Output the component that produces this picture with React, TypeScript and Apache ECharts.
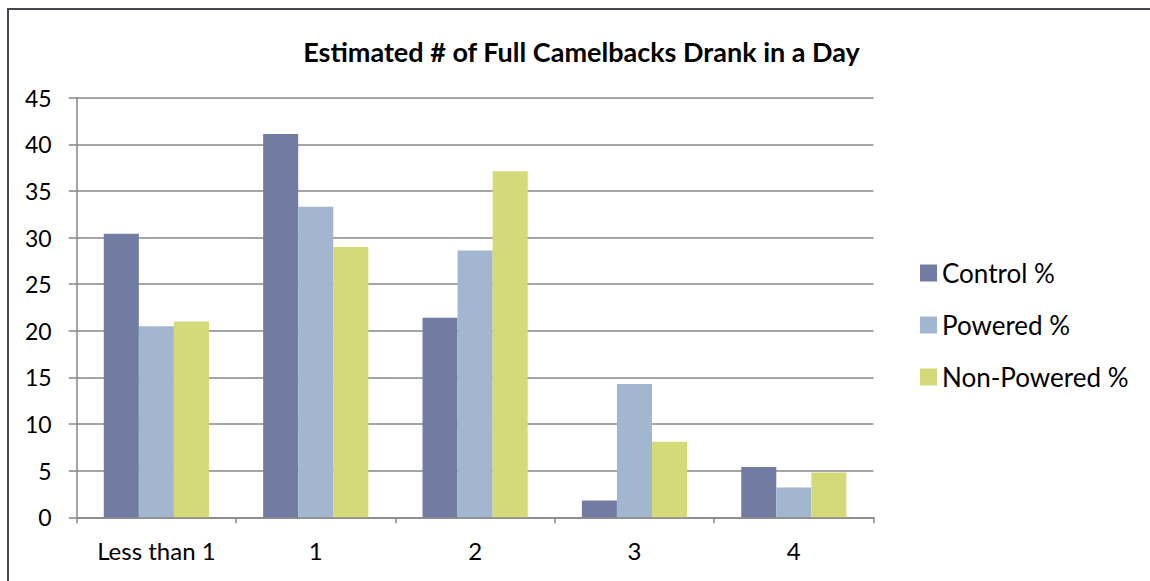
import React, { useEffect, useRef } from "react";
import * as echarts from "echarts";

const categories = ["Less than 1", "1", "2", "3", "4"];
const controlPct = [30.4, 41.1, 21.4, 1.8, 5.4];
const poweredPct = [20.5, 33.3, 28.6, 14.3, 3.2];
const nonPoweredPct = [21.0, 29.0, 37.1, 8.1, 4.8];
const seriesNames = ["Control %", "Powered %", "Non-Powered %"];
const colors = ["#727CA3", "#A2B7CF", "#D4DA7A"];
const titleText = "Estimated # of Full Camelbacks Drank in a Day";

const FONT = "Lato, 'Open Sans', sans-serif";

export default function App() {
  const ref = useRef<HTMLDivElement>(null);
  useEffect(() => {
    if (!ref.current) return;
    const chart = echarts.init(ref.current, null, { renderer: "svg" });
    const data = [controlPct, poweredPct, nonPoweredPct];
    chart.setOption({
      animation: false,
      backgroundColor: "#ffffff",
      textStyle: { fontFamily: FONT },
      graphic: [
        {
          type: "rect",
          shape: { x: 8, y: 9, width: 1300, height: 800 },
          style: { fill: "none", stroke: "#47464F", lineWidth: 2 },
          silent: true,
        },
        {
          type: "text",
          x: 581.5,
          y: 51,
          style: {
            text: titleText,
            fontFamily: FONT,
            fontWeight: "bold",
            fontSize: 27,
            fill: "#000",
            textAlign: "center",
            textVerticalAlign: "middle",
          },
        },
      ],
      legend: {
        orient: "vertical",
        left: 915,
        top: 255,
        itemWidth: 17,
        itemHeight: 17,
        itemGap: 26,
        icon: "rect",
        data: seriesNames,
        textStyle: { fontFamily: FONT, fontSize: 26, color: "#000" },
      },
      grid: { left: 76.7, right: 276.5, top: 97.7, bottom: 63.7 },
      xAxis: {
        type: "category",
        data: categories,
        axisLine: { show: true, lineStyle: { color: "#878787", width: 1.5 } },
        axisTick: { show: true, alignWithLabel: false, length: 6, lineStyle: { color: "#878787", width: 1.5 } },
        axisLabel: { fontFamily: FONT, fontSize: 24, color: "#000", margin: 21 },
        splitLine: { show: false },
      },
      yAxis: {
        type: "value",
        min: 0,
        max: 45,
        interval: 5,
        axisLine: { show: true, lineStyle: { color: "#878787", width: 1.5 } },
        axisTick: { show: true, inside: false, length: 8, lineStyle: { color: "#878787", width: 1.5 } },
        axisLabel: { fontFamily: FONT, fontSize: 23, color: "#000", margin: 25 },
        splitLine: { show: true, lineStyle: { color: "#878787", width: 1.5 } },
      },
      series: seriesNames.map((name, i) => ({
        name,
        type: "bar",
        data: data[i],
        barGap: "0%",
        barCategoryGap: "34%",
        itemStyle: { color: colors[i] },
      })),
    });
    return () => chart.dispose();
  }, []);
  return (
    <div
      ref={ref}
      style={{ position: "fixed", left: 0, top: 0, width: 1150, height: 581 }}
    />
  );
}
